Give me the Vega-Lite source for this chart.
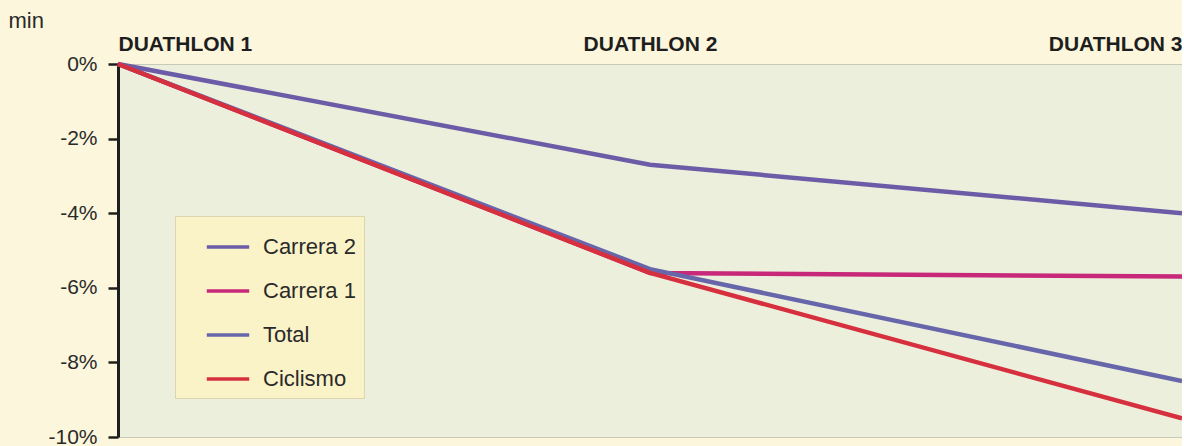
{
  "$schema": "https://vega.github.io/schema/vega-lite/v6.json",
  "autosize": {"type": "none"},
  "padding": {"left": 118, "top": 64, "right": 0, "bottom": 9},
  "width": 1064,
  "height": 373,
  "background": "#fcf6dc",
  "config": {
    "view": {"fill": "#ecefdb", "stroke": "#c9c9b8", "strokeWidth": 1},
    "font": "Liberation Sans"
  },
  "data": {
    "values": [
      {"evento": "DUATHLON 1", "serie": "Carrera 2", "valor": 0},
      {"evento": "DUATHLON 2", "serie": "Carrera 2", "valor": -2.7},
      {"evento": "DUATHLON 3", "serie": "Carrera 2", "valor": -4.0},
      {"evento": "DUATHLON 1", "serie": "Carrera 1", "valor": 0},
      {"evento": "DUATHLON 2", "serie": "Carrera 1", "valor": -5.6},
      {"evento": "DUATHLON 3", "serie": "Carrera 1", "valor": -5.7},
      {"evento": "DUATHLON 1", "serie": "Total", "valor": 0},
      {"evento": "DUATHLON 2", "serie": "Total", "valor": -5.5},
      {"evento": "DUATHLON 3", "serie": "Total", "valor": -8.5},
      {"evento": "DUATHLON 1", "serie": "Ciclismo", "valor": 0},
      {"evento": "DUATHLON 2", "serie": "Ciclismo", "valor": -5.6},
      {"evento": "DUATHLON 3", "serie": "Ciclismo", "valor": -9.5}
    ]
  },
  "mark": {"type": "line", "strokeWidth": 4.5},
  "encoding": {
    "x": {
      "field": "evento",
      "type": "ordinal",
      "scale": {"type": "point", "padding": 0},
      "axis": {
        "orient": "top",
        "title": null,
        "labelAngle": 0,
        "labelFlush": true,
        "labelFont": "Liberation Sans",
        "labelFontWeight": "bold",
        "labelFontSize": 21,
        "labelColor": "#1e1e1e",
        "labelPadding": 10,
        "ticks": false,
        "domain": false
      }
    },
    "y": {
      "field": "valor",
      "type": "quantitative",
      "scale": {"domain": [-10, 0], "nice": false, "zero": false},
      "axis": {
        "values": [0, -2, -4, -6, -8, -10],
        "labelExpr": "datum.value + '%'",
        "labelFontSize": 21,
        "labelColor": "#2a2a2a",
        "labelPadding": 11,
        "tickSize": 10,
        "tickWidth": 2.5,
        "tickColor": "#1e1e1e",
        "domainColor": "#1e1e1e",
        "domainWidth": 3,
        "grid": false,
        "title": "min",
        "titleAngle": 0,
        "titleAlign": "left",
        "titleBaseline": "middle",
        "titleX": -110,
        "titleY": -44,
        "titleFontSize": 22,
        "titleFontWeight": "normal",
        "titleColor": "#2a2a2a"
      }
    },
    "color": {
      "field": "serie",
      "type": "nominal",
      "scale": {
        "domain": ["Carrera 2", "Carrera 1", "Total", "Ciclismo"],
        "range": ["#6c5ca8", "#c8287a", "#6866ab", "#d6303f"]
      },
      "legend": {
        "title": null,
        "orient": "none",
        "legendX": 57,
        "legendY": 152,
        "fillColor": "#fbf3c8",
        "strokeColor": "#ddd5b0",
        "padding": 8,
        "symbolType": "stroke",
        "symbolStrokeWidth": 3.5,
        "symbolSize": 1800,
        "symbolOffset": 22,
        "labelFontSize": 22,
        "labelColor": "#2a2a2a",
        "labelOffset": 12,
        "rowPadding": 10,
        "labelLimit": 200
      }
    }
  }
}
